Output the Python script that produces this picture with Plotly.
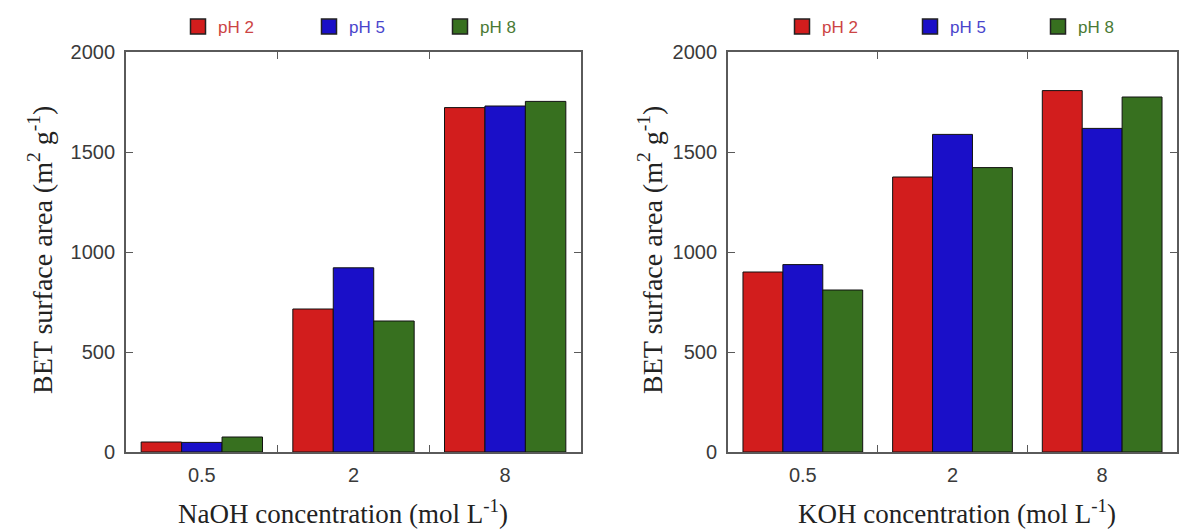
import plotly.graph_objects as go

categories = ["0.5", "2", "8"]
series_names = ["pH 2", "pH 5", "pH 8"]
naoh_ph2 = [50, 715, 1722]
naoh_ph5 = [48, 921, 1730]
naoh_ph8 = [75, 655, 1753]
koh_ph2 = [900, 1375, 1807]
koh_ph5 = [937, 1588, 1618]
koh_ph8 = [810, 1422, 1775]
y_ticks = [0, 500, 1000, 1500, 2000]

bar_colors = ["#d21d1d", "#1a0fc8", "#37701f"]
text_colors = ["#cc4444", "#4a45cc", "#4a7a34"]

W, H = 1179, 529

fig = go.Figure()
left_sets = [naoh_ph2, naoh_ph5, naoh_ph8]
right_sets = [koh_ph2, koh_ph5, koh_ph8]
for i, name in enumerate(series_names):
    label = f"<span style='color:{text_colors[i]}'>{name}</span>"
    mk = dict(color=bar_colors[i], line=dict(color="#111", width=1))
    fig.add_trace(go.Bar(x=categories, y=left_sets[i], name=name, marker=mk,
                         xaxis="x", yaxis="y", showlegend=False))
    fig.add_trace(go.Bar(x=categories, y=right_sets[i], name=name, marker=mk,
                         xaxis="x2", yaxis="y2", showlegend=False))
    # legend-only entries (no marks drawn)
    lm = dict(symbol="square", size=15, color=bar_colors[i], line=dict(color="#222", width=1.5))
    fig.add_trace(go.Scatter(x=[None], y=[None], mode="markers", name=label, marker=lm,
                             xaxis="x", yaxis="y", legend="legend"))
    fig.add_trace(go.Scatter(x=[None], y=[None], mode="markers", name=label, marker=lm,
                             xaxis="x2", yaxis="y2", legend="legend2"))

axis_common = dict(showline=True, linecolor="#5a5a5a", linewidth=1.8, mirror="ticks",
                   ticks="inside", ticklen=7, tickwidth=1.4, tickcolor="#5a5a5a",
                   showgrid=False, zeroline=False,
                   tickfont=dict(family="Liberation Sans, Arial", size=20, color="#3a3a3a"))

xdom1 = [126 / W, 581 / W]
xdom2 = [728 / W, 1177 / W]
ydom = [1 - 452 / H, 1 - 52 / H]

leg_font = dict(family="Liberation Sans, Arial", size=17)
fig.update_layout(
    width=W, height=H,
    margin=dict(l=0, r=0, t=0, b=0, autoexpand=False),
    paper_bgcolor="white", plot_bgcolor="white",
    barmode="group", bargap=0.2, bargroupgap=0,
    xaxis=dict(domain=xdom1, anchor="y", type="category", tickson="boundaries",
               categoryorder="array", categoryarray=categories, ticklabelstandoff=4, **axis_common),
    yaxis=dict(domain=ydom, anchor="x", range=[0, 2000], tickvals=y_ticks,
               ticklabelstandoff=5, **axis_common),
    xaxis2=dict(domain=xdom2, anchor="y2", type="category", tickson="boundaries",
                categoryorder="array", categoryarray=categories, ticklabelstandoff=4, **axis_common),
    yaxis2=dict(domain=ydom, anchor="x2", range=[0, 2000], tickvals=y_ticks,
                ticklabelstandoff=5, **axis_common),
    legend=dict(orientation="h", x=178 / W, y=1 - 27 / H, xanchor="left", yanchor="middle",
                entrywidth=86, entrywidthmode="pixels", itemsizing="trace",
                font=leg_font, bgcolor="rgba(0,0,0,0)"),
    legend2=dict(orientation="h", x=782 / W, y=1 - 27 / H, xanchor="left", yanchor="middle",
                 entrywidth=83, entrywidthmode="pixels", itemsizing="trace",
                 font=leg_font, bgcolor="rgba(0,0,0,0)"),
    showlegend=True,
)

x_title_font = dict(family="Liberation Serif, Times New Roman", size=27, color="#222")
y_title_font = dict(family="Liberation Serif, Times New Roman", size=28, color="#222")
fig.add_annotation(text="NaOH concentration (mol L<sup>-1</sup>)", xref="paper", yref="paper",
                   x=343 / W, y=1 - 512 / H, showarrow=False, font=x_title_font,
                   xanchor="center", yanchor="middle")
fig.add_annotation(text="KOH concentration (mol L<sup>-1</sup>)", xref="paper", yref="paper",
                   x=957 / W, y=1 - 512 / H, showarrow=False, font=x_title_font,
                   xanchor="center", yanchor="middle")
fig.add_annotation(text="BET surface area (m<sup>2</sup> g<sup>-1</sup>)", xref="paper", yref="paper",
                   x=40 / W, y=1 - 250 / H, showarrow=False, font=y_title_font, textangle=-90,
                   xanchor="center", yanchor="middle")
fig.add_annotation(text="BET surface area (m<sup>2</sup> g<sup>-1</sup>)", xref="paper", yref="paper",
                   x=650 / W, y=1 - 250 / H, showarrow=False, font=y_title_font, textangle=-90,
                   xanchor="center", yanchor="middle")

fig.write_html("out.html", config={"displayModeBar": False},
               post_script="document.body.style.margin='0';document.body.style.overflow='hidden';")
